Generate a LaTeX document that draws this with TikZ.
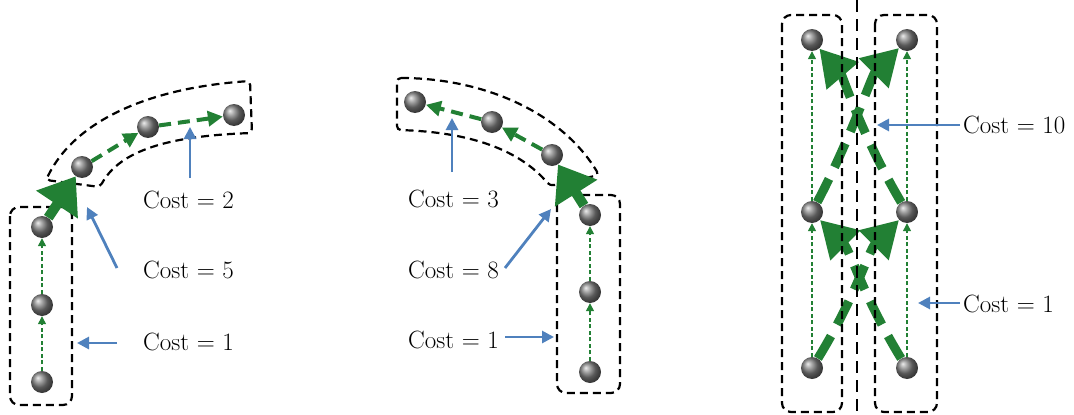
\documentclass[tikz,border=0pt]{standalone}
\usetikzlibrary{arrows.meta,shadings}
\definecolor{pgreen}{RGB}{34,128,52}
\definecolor{pblue}{RGB}{79,129,189}
\begin{document}
\begin{tikzpicture}[x=1pt,y=-1pt,
  sphere/.style={circle, minimum size=22pt, inner sep=0pt, shading=ball, ball color=black!50},
  grp/.style={draw=black, dash pattern=on 8pt off 5pt, line width=2.2pt, rounded corners=9pt},
  thinarr/.style={pgreen, line width=1.3pt, dash pattern=on 4pt off 2.5pt, -{Triangle[length=8pt,width=8pt]}},
  midarr/.style={pgreen, line width=4pt, dash pattern=on 12pt off 7pt, -{Triangle[length=15pt,width=15pt]}},
  bigarr/.style={pgreen, line width=10pt, -{Triangle[length=34pt,width=48pt]}},
  bigdash/.style={pgreen, line width=9pt, dash pattern=on 26pt off 13pt, -{Triangle[length=36pt,width=40pt]}},
  callout/.style={pblue, line width=2.8pt, -{Triangle[length=12pt,width=12pt]}},
  lbl/.style={anchor=base west, font=\fontsize{25}{25}\selectfont, inner sep=0pt}]
\useasboundingbox (0,0) rectangle (1074,415);

% ---------------- left panel ----------------
\draw[grp] (10,207) rectangle (72,405);
\draw[grp, rounded corners=4pt] (46,180) .. controls (75,120) and (150,88) .. (250,81)
  -- (252,133) .. controls (170,136) and (120,150) .. (100,187) -- cycle;
\node[sphere] (L1) at (42,382) {};
\node[sphere] (L2) at (42,305) {};
\node[sphere] (L3) at (42,227) {};
\node[sphere] (B1) at (82,167) {};
\node[sphere] (B2) at (148,127) {};
\node[sphere] (B3) at (234,115) {};
\draw[thinarr] (L1) -- (L2);
\draw[thinarr] (L2) -- (L3);
\draw[midarr] (B1) -- (B2);
\draw[midarr] (B2) -- (B3);
\draw[bigarr] (L3) -- (B1);
\node[lbl] (t2) at (143,208) {Cost = 2};
\node[lbl] (t5) at (143,278) {Cost = 5};
\node[lbl] (t1a) at (143,350) {Cost = 1};
\coordinate (a2t) at (190,178); \coordinate (a2h) at (190,127);
\coordinate (a5t) at (117,268); \coordinate (a5h) at (87,207);
\coordinate (a1t) at (117,343); \coordinate (a1h) at (77,343);
\draw[callout] (a2t) -- (a2h);
\draw[callout] (a5t) -- (a5h);
\draw[callout] (a1t) -- (a1h);

% ---------------- middle panel ----------------
\draw[grp] (557,195) rectangle (620,393);
\draw[grp, rounded corners=4pt] (397,78) .. controls (480,78) and (560,110) .. (599,175)
  -- (550,186) .. controls (520,150) and (470,132) .. (397,130) -- cycle;
\node[sphere] (M1) at (590,372) {};
\node[sphere] (M2) at (590,292) {};
\node[sphere] (M3) at (590,215) {};
\node[sphere] (N1) at (552,155) {};
\node[sphere] (N2) at (492,122) {};
\node[sphere] (N3) at (415,102) {};
\draw[thinarr] (M1) -- (M2);
\draw[thinarr] (M2) -- (M3);
\draw[midarr] (N1) -- (N2);
\draw[midarr] (N2) -- (N3);
\draw[bigarr] (M3) -- (N1);
\node[lbl] (t3) at (408,207) {Cost = 3};
\node[lbl] (t8) at (408,278) {Cost = 8};
\node[lbl] (t1b) at (408,348) {Cost = 1};
\coordinate (b3t) at (452,172); \coordinate (b3h) at (452,118);
\coordinate (b8t) at (505,268); \coordinate (b8h) at (551,209);
\coordinate (b1t) at (505,337); \coordinate (b1h) at (554,337);
\draw[callout] (b3t) -- (b3h);
\draw[callout] (b8t) -- (b8h);
\draw[callout] (b1t) -- (b1h);

% ---------------- right panel ----------------
\node[sphere] (P1) at (812,368) {};
\node[sphere] (P2) at (812,212) {};
\node[sphere] (P3) at (812,40) {};
\node[sphere] (Q1) at (907,368) {};
\node[sphere] (Q2) at (907,212) {};
\node[sphere] (Q3) at (907,40) {};
\draw[thinarr] (P1) -- (P2);
\draw[thinarr] (P2) -- (P3);
\draw[thinarr] (Q1) -- (Q2);
\draw[thinarr] (Q2) -- (Q3);
\draw[bigdash] (P1) .. controls (855,298) and (869,250) .. (Q2);
\draw[bigdash] (Q1) .. controls (864,298) and (850,250) .. (P2);
\draw[bigdash] (P2) .. controls (850,140) and (872,75) .. (Q3);
\draw[bigdash] (Q2) .. controls (864,140) and (842,75) .. (P3);
\draw[grp] (782,15) rectangle (842,412);
\draw[grp] (875,15) rectangle (937,412);
\coordinate (ctop) at (857,0); \coordinate (cbot) at (857,415);
\draw[black, line width=2.8pt, dash pattern=on 12pt off 7pt] (ctop) -- (cbot);
\node[lbl] (t10) at (963,133) {Cost = 10};
\node[lbl] (t1c) at (963,312) {Cost = 1};
\coordinate (c10t) at (960,125); \coordinate (c10h) at (877,125);
\coordinate (c1t) at (960,303); \coordinate (c1h) at (918,303);
\draw[callout] (c10t) -- (c10h);
\draw[callout] (c1t) -- (c1h);
\end{tikzpicture}
\end{document}
